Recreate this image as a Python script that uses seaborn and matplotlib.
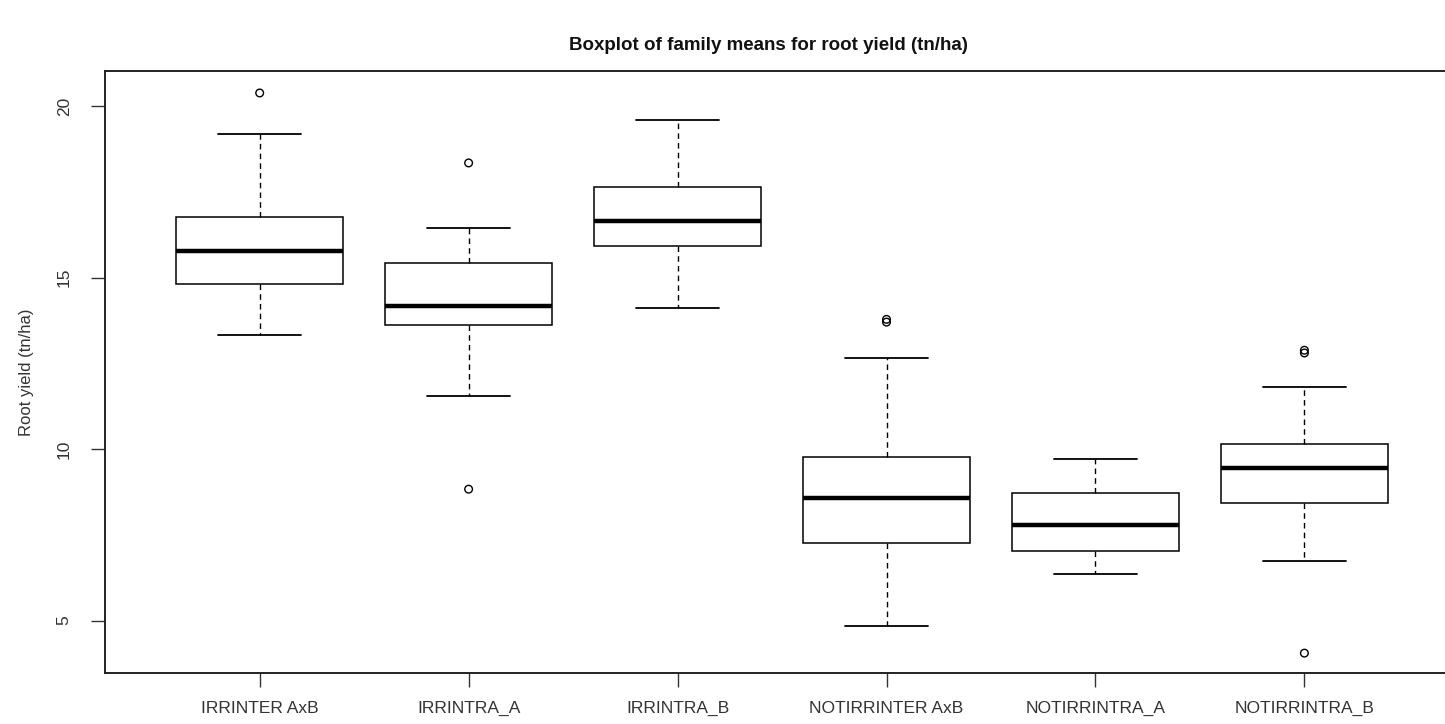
import numpy as np
import pandas as pd
import matplotlib
matplotlib.use("Agg")
import matplotlib.pyplot as plt
import seaborn as sns

# ---- data (R-style five-number summaries) ----
groups = ["IRRINTER AxB", "IRRINTRA_A", "IRRINTRA_B",
          "NOTIRRINTER AxB", "NOTIRRINTRA_A", "NOTIRRINTRA_B"]
whisker_low = [13.32, 11.55, 14.11, 4.84, 6.36, 6.73]
q1          = [14.81, 13.62, 15.92, 7.26, 7.03, 8.43]
median      = [15.77, 14.17, 16.65, 8.57, 7.78, 9.45]
q3          = [16.76, 15.42, 17.64, 9.77, 8.72, 10.15]
whisker_high= [19.18, 16.44, 19.59, 12.65, 9.71, 11.81]

outlier_groups = ["IRRINTER AxB", "IRRINTRA_A", "IRRINTRA_A",
                  "NOTIRRINTER AxB", "NOTIRRINTER AxB",
                  "NOTIRRINTRA_B", "NOTIRRINTRA_B", "NOTIRRINTRA_B"]
outlier_values = [20.38, 18.34, 8.83, 13.70, 13.78, 12.80, 12.88, 4.05]

title = "Boxplot of family means for root yield (tn/ha)"
ylabel = "Root yield (tn/ha)"
yticks = [5, 10, 15, 20]

# ---- build tables ----
rows = []
for g, a, b, c, d, e in zip(groups, whisker_low, q1, median, q3, whisker_high):
    for v in (a, b, c, d, e):
        rows.append({"group": g, "value": v})
box_df = pd.DataFrame(rows)
out_df = pd.DataFrame({"group": outlier_groups, "value": outlier_values})

sns.set_theme(style="ticks")
plt.rcParams["font.family"] = ["Liberation Sans", "DejaVu Sans"]

fig = plt.figure(figsize=(14.45, 7.24), dpi=100)
# right edge of the plot frame lies beyond the image, as in the reference
ax = fig.add_axes([0.0727, 0.0704, 0.937, 0.8315])

sns.boxplot(data=box_df, x="group", y="value", order=groups, ax=ax,
            whis=(0, 100), showfliers=False, width=0.8,
            color="white", linecolor="black", saturation=1, linewidth=1.1,
            medianprops=dict(linewidth=3.2, color="black"),
            whiskerprops=dict(linestyle=(0, (4, 3)), linewidth=1.0),
            capprops=dict(linewidth=1.3))

sns.stripplot(data=out_df, x="group", y="value", order=groups, ax=ax,
              jitter=False, color="black", facecolors="none",
              edgecolor="black", linewidth=1.0, size=5.5, marker="o")

ax.set_xlim(-0.74, 5.74)
ax.set_ylim(3.47, 21.02)
ax.set_yticks(yticks)
ax.set_yticklabels([str(t) for t in yticks], rotation=90, va="center")
ax.set_xlabel("")
ax.set_ylabel(ylabel, fontsize=12, labelpad=16, color="#333333")
ax.tick_params(axis="both", direction="out", length=10, width=1.0,
               colors="#333333", labelsize=12.5)
ax.tick_params(axis="y", pad=14)
ax.tick_params(axis="x", pad=10)
for s in ax.spines.values():
    s.set_visible(True)
    s.set_color("#222222")
    s.set_linewidth(1.4)

fig.text(0.532, 0.937, title, ha="center", va="center",
         fontsize=13.5, fontweight="bold", color="#111111")

fig.savefig("out.png", dpi=100, facecolor="white")
